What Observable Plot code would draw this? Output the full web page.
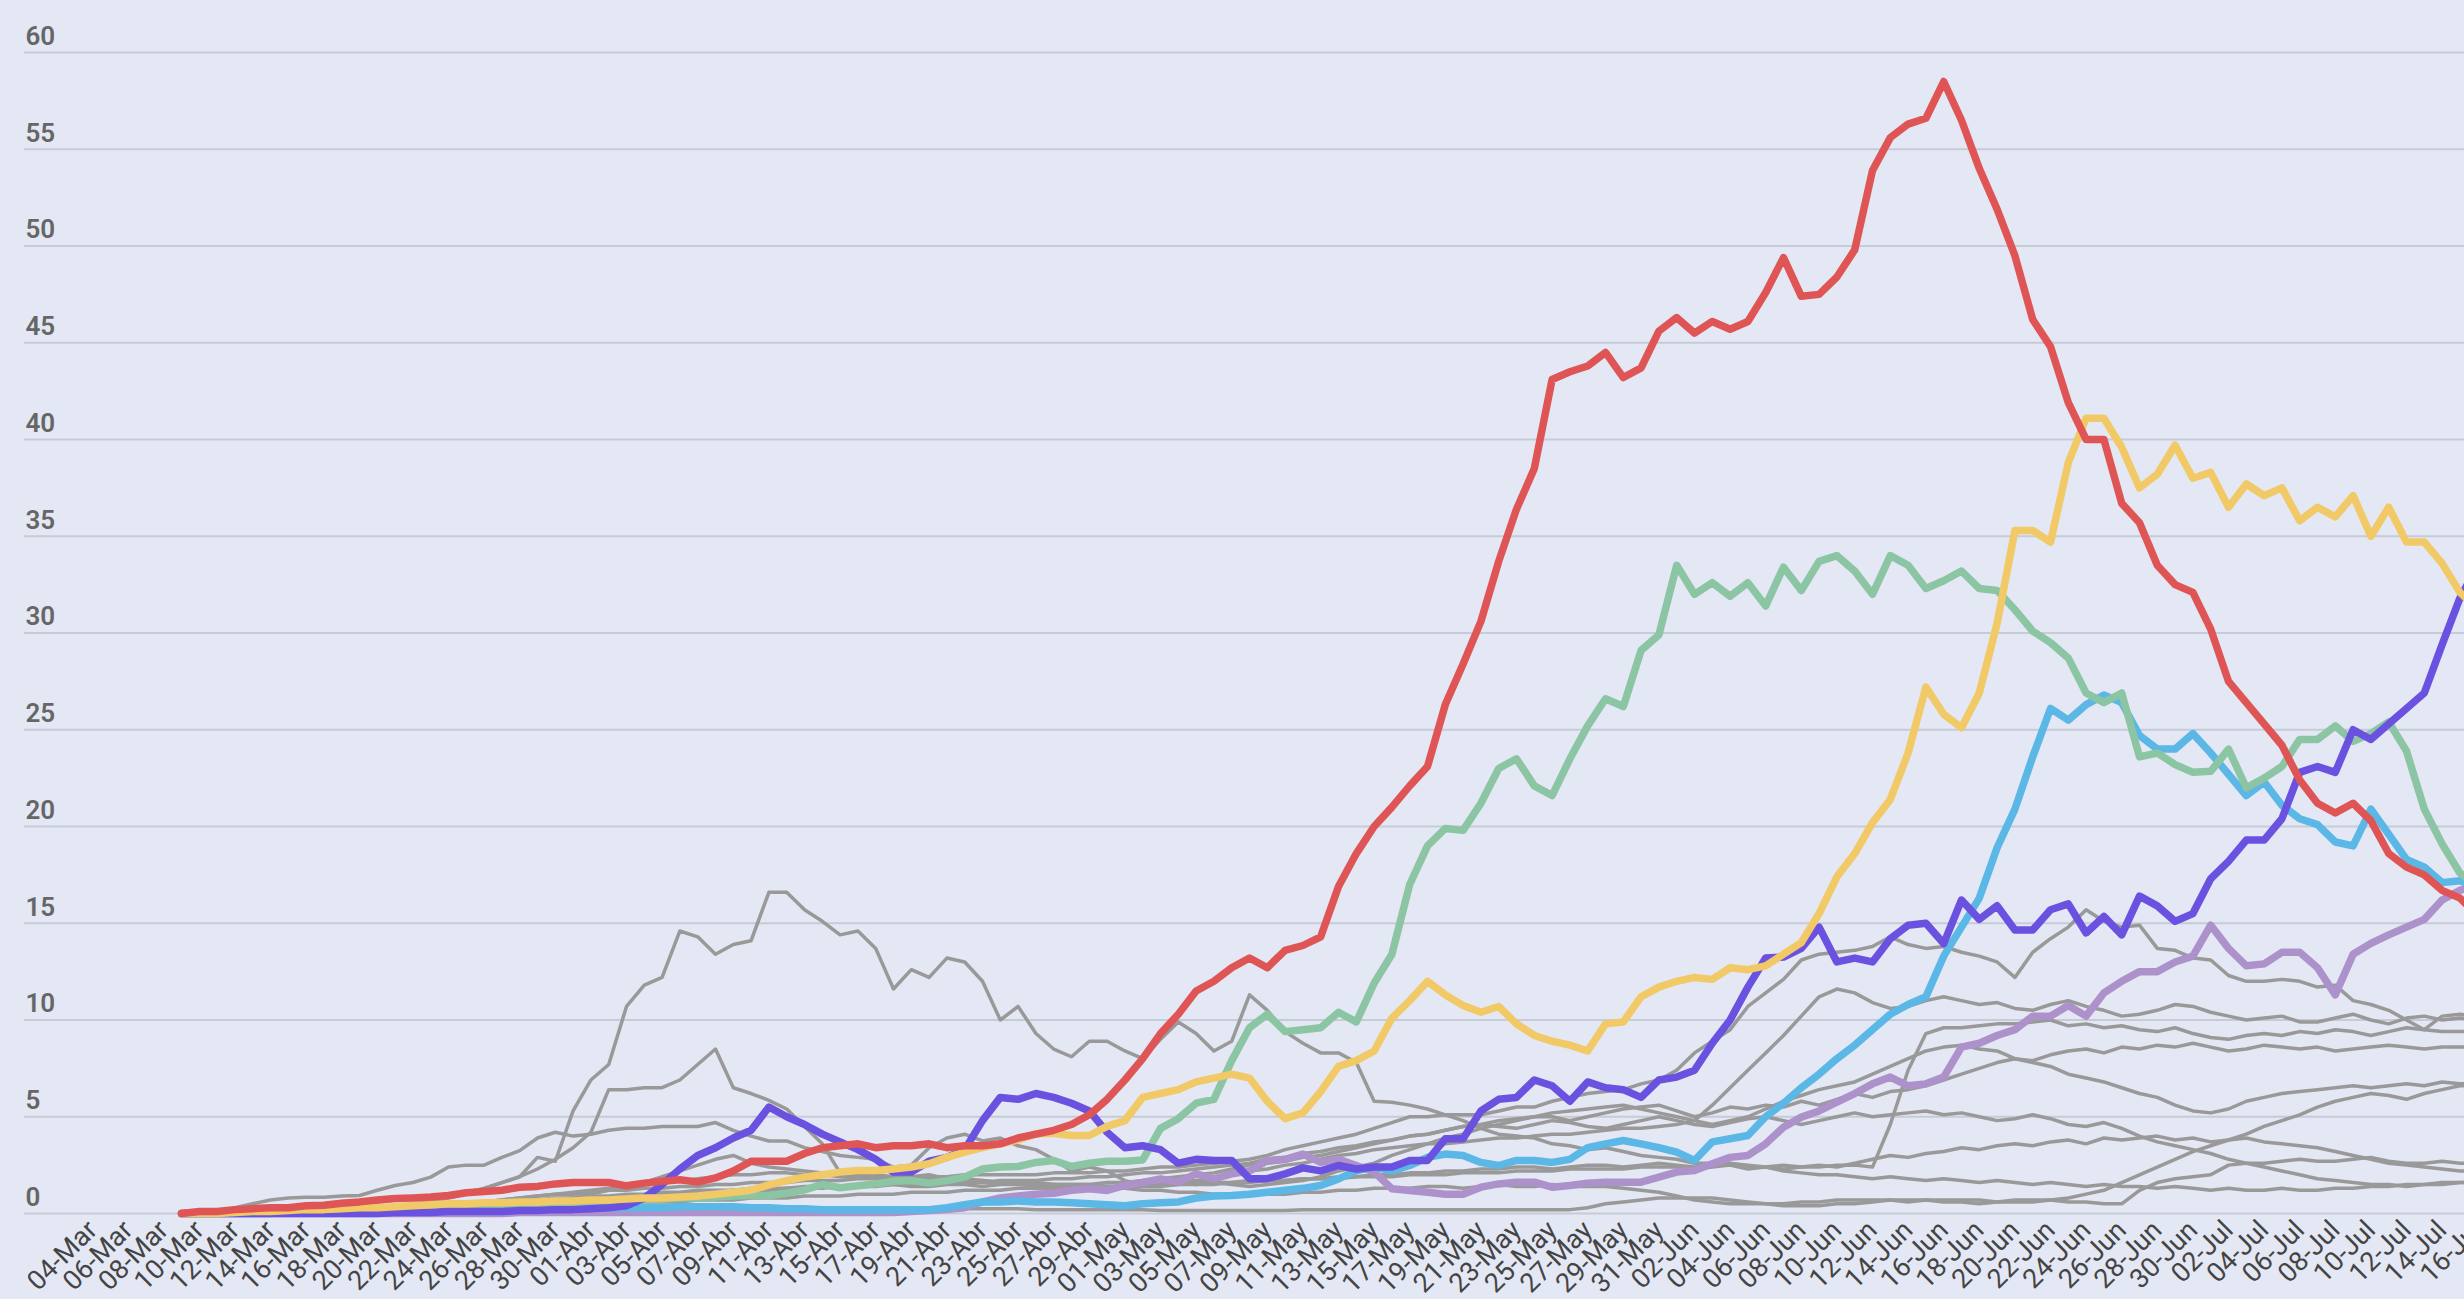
<!DOCTYPE html>
<html><head><meta charset="utf-8">
<script src="https://cdn.jsdelivr.net/npm/d3@7"></script>
<script src="https://cdn.jsdelivr.net/npm/@observablehq/plot@0.6"></script>
<style>
html,body{margin:0;padding:0;background:#e4e8f4;overflow:hidden;}
#chart svg{display:block;}
</style></head><body><div id="chart"></div>
<script>
const monthNames = ["Mar","Abr","May","Jun","Jul"];
const dates = d3.utcDay.range(new Date(Date.UTC(2020,2,4)), new Date(Date.UTC(2020,6,17)))
  .map(d => String(d.getUTCDate()).padStart(2,"0") + "-" + monthNames[d.getUTCMonth()-2]);
const tickLabels = dates.filter((d,i) => i % 2 === 0);
const yTicks = [0,5,10,15,20,25,30,35,40,45,50,55,60];
const firstIndex = 5; // series start on 09-Mar

const red = [0,0.1,0.1,0.2,0.25,0.3,0.3,0.4,0.43,0.53,
 0.6,0.7,0.77,0.8,0.85,0.93,1.07,1.14,1.2,1.36,
 1.4,1.53,1.6,1.6,1.6,1.43,1.57,1.67,1.74,1.62,
 1.84,2.2,2.7,2.7,2.7,3.1,3.4,3.5,3.6,3.4,
 3.5,3.5,3.6,3.4,3.5,3.5,3.6,3.9,4.1,4.3,
 4.6,5.1,5.9,6.9,8.0,9.3,10.3,11.5,12.0,12.7,
 13.2,12.7,13.6,13.85,14.3,16.9,18.6,20.0,21.0,22.1,
 23.1,26.3,28.4,30.6,33.7,36.4,38.5,43.1,43.5,43.8,
 44.5,43.2,43.7,45.6,46.3,45.5,46.1,45.7,46.1,47.6,
 49.4,47.4,47.5,48.4,49.8,53.9,55.6,56.3,56.6,58.5,
 56.5,54.0,51.9,49.5,46.2,44.8,41.9,40.0,40.0,36.7,
 35.7,33.5,32.5,32.1,30.2,27.5,26.4,25.3,24.2,22.4,
 21.2,20.7,21.2,20.3,18.6,17.9,17.5,16.7,16.3,15.4];
const green = [0,0,0,0.05,0.05,0.1,0.1,0.1,0.15,0.15,
 0.2,0.2,0.2,0.25,0.3,0.3,0.35,0.4,0.4,0.45,
 0.5,0.5,0.55,0.6,0.6,0.65,0.7,0.75,0.8,0.8,
 0.85,0.9,0.93,0.93,1.05,1.22,1.5,1.33,1.43,1.53,
 1.67,1.7,1.57,1.7,1.88,2.3,2.4,2.43,2.64,2.74,
 2.43,2.6,2.7,2.7,2.77,4.4,4.9,5.7,5.9,7.9,
 9.6,10.3,9.4,9.5,9.6,10.4,9.9,11.9,13.4,17.0,
 19.0,19.9,19.8,21.2,23.0,23.5,22.1,21.6,23.5,25.2,
 26.6,26.2,29.1,29.9,33.5,32.0,32.6,31.9,32.6,31.4,
 33.4,32.2,33.7,34.0,33.2,32.0,34.0,33.5,32.3,32.7,
 33.2,32.3,32.2,31.2,30.1,29.5,28.7,26.9,26.4,26.9,
 23.6,23.8,23.2,22.8,22.85,24.0,22.0,22.5,23.1,24.5,
 24.5,25.2,24.4,24.8,25.4,23.9,20.9,19.1,17.6,16.9];
const yellow = [0,0,0,0.05,0.1,0.1,0.15,0.2,0.2,0.25,
 0.3,0.3,0.35,0.4,0.45,0.5,0.5,0.55,0.55,0.6,
 0.6,0.65,0.65,0.7,0.7,0.75,0.8,0.8,0.85,0.9,
 1.0,1.1,1.2,1.48,1.7,1.88,2.0,2.14,2.22,2.22,
 2.3,2.4,2.57,2.9,3.17,3.4,3.6,3.8,4.12,4.15,
 4.03,4.03,4.5,4.8,6.0,6.2,6.4,6.8,7.0,7.2,
 7.0,5.8,4.9,5.2,6.3,7.6,7.9,8.4,10.1,11.0,
 12.0,11.3,10.75,10.4,10.7,9.8,9.2,8.9,8.7,8.4,
 9.8,9.9,11.2,11.7,12.0,12.2,12.1,12.7,12.6,12.8,
 13.4,14.0,15.5,17.4,18.6,20.2,21.4,23.8,27.2,25.8,
 25.1,26.9,30.5,35.3,35.3,34.7,38.8,41.1,41.1,39.6,
 37.5,38.2,39.7,38.0,38.3,36.5,37.7,37.1,37.5,35.8,
 36.5,36.0,37.1,35.0,36.5,34.7,34.7,33.6,32.1,31.2];
const purple = [0,0,0,0,0,0,0,0,0,0,
 0,0,0.05,0.05,0.05,0.1,0.1,0.1,0.1,0.15,
 0.15,0.2,0.2,0.25,0.3,0.4,0.8,1.5,2.3,3.0,
 3.4,3.9,4.3,5.5,5.0,4.6,4.1,3.7,3.3,2.8,
 2.14,2.14,2.7,2.9,3.3,4.8,6.0,5.9,6.2,6.0,
 5.7,5.3,4.2,3.4,3.5,3.3,2.6,2.8,2.74,2.74,
 1.8,1.8,2.05,2.36,2.2,2.48,2.3,2.4,2.4,2.74,
 2.74,3.86,3.86,5.3,5.9,6.0,6.9,6.6,5.8,6.8,
 6.5,6.4,6.0,6.9,7.05,7.4,8.8,10.0,11.7,13.2,
 13.25,13.7,14.8,13.0,13.2,13.0,14.2,14.9,15.0,13.95,
 16.2,15.2,15.9,14.65,14.65,15.7,16.0,14.5,15.35,14.4,
 16.4,15.9,15.1,15.5,17.3,18.2,19.3,19.3,20.4,22.8,
 23.1,22.8,25.0,24.5,25.3,26.1,26.9,29.4,31.8,33.5];
const blue = [0,0,0,0,0,0,0.05,0.05,0.05,0.1,
 0.1,0.1,0.1,0.15,0.15,0.15,0.2,0.2,0.2,0.2,
 0.25,0.25,0.25,0.3,0.3,0.3,0.3,0.3,0.35,0.35,
 0.35,0.35,0.3,0.3,0.25,0.25,0.2,0.2,0.2,0.2,
 0.2,0.2,0.2,0.3,0.45,0.6,0.6,0.65,0.6,0.6,
 0.55,0.5,0.45,0.4,0.5,0.55,0.6,0.8,0.9,0.93,
 1.0,1.1,1.2,1.3,1.45,1.79,2.2,2.4,2.2,2.48,
 2.9,3.07,3.0,2.64,2.48,2.74,2.74,2.64,2.8,3.4,
 3.6,3.77,3.6,3.4,3.17,2.74,3.7,3.86,4.03,5.0,
 5.7,6.5,7.2,8.0,8.7,9.5,10.3,10.8,11.2,13.3,
 14.8,16.3,18.9,20.9,23.6,26.1,25.5,26.3,26.8,26.4,
 24.7,24.0,24.0,24.8,23.8,22.7,21.6,22.3,21.1,20.4,
 20.1,19.2,19.0,20.9,19.6,18.3,17.9,17.1,17.2,16.9];
const lavender = [0,0,0,0,0,0,0,0,0,0,
 0,0,0,0,0,0,0,0,0,0.05,
 0.05,0.05,0.05,0.05,0.05,0.05,0.05,0.05,0.05,0.05,
 0.05,0.05,0.05,0.05,0.05,0.05,0.05,0.05,0.05,0.05,
 0.05,0.1,0.15,0.2,0.3,0.6,0.8,0.9,1.0,1.05,
 1.2,1.28,1.19,1.45,1.6,1.79,1.62,2.05,1.79,2.05,
 2.2,2.74,2.8,3.07,2.64,2.8,2.48,2.14,1.28,1.19,
 1.1,1.0,1.0,1.36,1.53,1.62,1.62,1.36,1.45,1.57,
 1.62,1.62,1.62,1.88,2.14,2.22,2.57,2.9,3.0,3.6,
 4.46,4.98,5.3,5.76,6.2,6.7,7.05,6.6,6.7,7.05,
 8.6,8.8,9.2,9.5,10.2,10.2,10.75,10.2,11.4,12.0,
 12.5,12.5,13.0,13.3,14.9,13.7,12.8,12.9,13.5,13.5,
 12.7,11.3,13.4,13.96,14.4,14.8,15.2,16.2,16.7,17.0];

const gray1 = [0,0,0.1,0.1,0.2,0.2,0.3,0.4,0.4,0.5,
 0.6,0.6,0.7,0.8,0.9,1.0,1.1,1.3,1.6,1.9,
 2.9,2.7,5.3,6.9,7.7,10.7,11.8,12.2,14.6,14.3,
 13.4,13.9,14.1,16.6,16.6,15.7,15.1,14.4,14.6,13.7,
 11.6,12.6,12.2,13.2,13.0,12.0,10.0,10.7,9.3,8.5,
 8.1,8.9,8.9,8.4,8.0,9.0,9.9,9.3,8.4,8.9,
 11.3,10.5,9.4,8.8,8.3,8.3,7.8,5.8,5.75,5.6,
 5.4,5.1,4.8,4.4,4.1,4.0,3.9,3.6,3.5,3.3,
 3.4,3.2,3.0,2.9,2.8,2.6,2.6,2.5,2.3,2.4,
 2.2,2.1,2.0,2.0,1.9,1.8,1.9,1.8,1.7,1.8,
 1.7,1.6,1.7,1.6,1.5,1.6,1.5,1.4,1.5,1.4,
 1.4,1.3,1.4,1.3,1.2,1.3,1.2,1.2,1.3,1.2,
 1.2,1.3,1.3,1.4,1.4,1.5,1.5,1.5,1.6,1.6];
const gray2 = [0,0,0,0,0,0.1,0.1,0.1,0.2,0.2,
 0.3,0.3,0.4,0.5,0.6,0.8,1.0,1.3,1.6,1.9,
 2.3,2.8,3.4,4.2,6.4,6.4,6.5,6.5,6.9,7.7,
 8.5,6.5,6.2,5.85,5.4,4.5,3.6,2.1,2.05,2.0,
 1.9,1.9,2.0,1.8,1.8,1.7,1.6,1.6,1.5,1.5,
 1.4,1.4,1.3,1.3,1.2,1.2,1.1,1.1,1.0,1.0,
 1.0,1.0,1.0,1.1,1.1,1.2,1.2,1.3,1.3,1.3,
 1.4,1.4,1.3,1.4,1.5,1.4,1.4,1.5,1.4,1.4,
 1.4,1.3,1.2,1.1,0.9,0.7,0.6,0.5,0.5,0.5,
 0.5,0.6,0.6,0.7,0.7,0.7,0.7,0.6,0.7,0.7,
 0.7,0.7,0.6,0.7,0.7,0.7,0.6,0.6,0.5,0.5,
 1.2,1.6,1.8,1.9,2.0,2.5,2.6,2.6,2.7,2.8,
 2.7,2.7,2.8,2.9,2.7,2.6,2.6,2.7,2.6,2.6];
const gray3 = [0,0,0.1,0.3,0.5,0.7,0.8,0.84,0.84,0.9,
 0.93,1.2,1.45,1.6,1.88,2.4,2.5,2.5,2.9,3.25,
 3.9,4.2,4.0,4.1,4.3,4.4,4.4,4.5,4.5,4.5,
 4.7,4.3,4.0,3.75,3.75,3.4,3.2,3.0,2.9,2.8,
 2.4,2.5,3.4,3.9,4.1,3.75,3.9,3.5,3.3,2.8,
 2.2,2.4,2.2,1.7,1.5,1.7,1.6,1.5,1.6,1.5,
 1.4,1.5,1.6,1.7,1.9,2.2,2.4,2.6,3.0,3.3,
 3.6,3.9,4.1,4.4,4.6,4.8,5.0,5.0,4.8,5.0,
 5.2,5.4,5.5,5.6,5.3,5.0,5.2,5.5,5.4,5.6,
 5.5,5.8,5.6,5.9,6.2,6.0,6.3,6.4,6.6,6.9,
 7.2,7.5,7.8,8.0,7.9,8.2,8.4,8.5,8.3,8.6,
 8.5,8.7,8.6,8.8,8.6,8.4,8.5,8.7,8.6,8.5,
 8.6,8.4,8.5,8.6,8.7,8.6,8.5,8.6,8.6,8.6];
const gray4 = [0,0,0,0.1,0.1,0.1,0.2,0.2,0.2,0.3,
 0.3,0.3,0.4,0.4,0.5,0.5,0.6,0.6,0.7,0.8,
 0.9,1.0,1.0,1.1,1.2,1.2,1.3,1.3,1.4,1.4,
 1.5,1.5,1.6,1.6,1.6,1.7,1.7,1.7,1.8,1.8,
 1.8,1.9,1.9,1.9,2.0,2.0,2.0,2.0,2.0,2.1,
 2.1,2.1,2.2,2.2,2.3,2.4,2.4,2.5,2.6,2.7,
 2.8,3.0,3.3,3.5,3.7,3.9,4.1,4.4,4.7,5.0,
 5.0,5.1,5.1,5.1,5.3,5.5,5.5,5.8,6.0,6.2,
 6.3,6.4,6.7,6.9,7.4,8.3,8.9,9.5,10.7,11.4,
 12.1,13.1,13.4,13.5,13.6,13.8,14.3,13.9,13.7,13.8,
 13.5,13.3,13.0,12.2,13.5,14.2,14.8,15.7,15.1,14.8,
 14.9,13.7,13.6,13.2,13.1,12.3,12.0,12.0,12.1,12.0,
 11.7,11.8,11.0,10.8,10.5,10.0,9.5,10.2,10.3,10.2];
const gray5 = [0,0,0,0,0.1,0.1,0.1,0.2,0.2,0.2,
 0.3,0.3,0.3,0.4,0.4,0.5,0.5,0.6,0.6,0.7,
 0.7,0.8,0.8,0.9,0.9,1.0,1.0,1.1,1.1,1.2,
 1.2,1.2,1.3,1.3,1.3,1.4,1.4,1.4,1.5,1.5,
 1.5,1.4,1.4,1.5,1.5,1.4,1.5,1.5,1.4,1.4,
 1.4,1.3,1.4,1.4,1.5,1.5,1.6,1.7,1.8,2.0,
 2.2,2.3,2.5,2.6,2.8,3.0,3.1,3.3,3.4,3.5,
 3.6,3.6,3.7,3.8,3.9,3.9,4.0,4.1,4.1,4.2,
 4.3,4.4,4.4,4.5,4.6,4.8,5.6,6.5,7.4,8.3,
 9.2,10.2,11.2,11.6,11.4,10.9,10.6,10.7,11.0,11.2,
 11.0,10.8,10.9,10.6,10.5,10.8,11.0,10.7,10.5,10.2,
 10.3,10.5,10.8,10.7,10.4,10.2,10.0,10.1,10.2,9.9,
 9.9,10.1,10.3,10.0,9.8,10.1,10.2,10.0,10.1,10.0];
const gray6 = [0,0,0,0,0,0,0,0.1,0.1,0.1,
 0.1,0.1,0.2,0.2,0.2,0.2,0.3,0.3,0.3,0.3,
 0.4,0.4,0.4,0.5,0.5,0.5,0.6,0.6,0.6,0.7,
 0.7,0.7,0.8,0.8,0.8,0.9,0.9,0.9,1.0,1.0,
 1.0,1.1,1.1,1.1,1.2,1.2,1.2,1.3,1.3,1.3,
 1.3,1.4,1.4,1.4,1.5,1.5,1.5,1.6,1.6,1.6,
 1.7,1.7,1.7,1.8,1.8,1.8,1.9,1.9,1.9,2.0,
 2.0,2.0,2.1,2.1,2.1,2.2,2.2,2.2,2.3,2.3,
 2.3,2.3,2.4,2.4,2.4,2.3,2.4,2.5,2.4,2.4,
 2.5,2.4,2.4,2.5,2.5,2.4,4.6,7.4,9.3,9.6,
 9.6,9.7,9.8,9.8,9.9,10.0,9.7,9.8,9.6,9.7,
 9.5,9.4,9.6,9.3,9.1,9.0,9.2,9.3,9.2,9.4,
 9.3,9.5,9.4,9.2,9.4,9.6,9.5,9.4,9.4,9.4];
const gray7 = [0,0,0,0,0,0,0.1,0.1,0.1,0.1,
 0.2,0.2,0.2,0.3,0.3,0.3,0.4,0.4,0.4,0.5,
 0.6,0.7,0.8,1.0,1.2,1.4,1.6,1.9,2.2,2.5,
 2.8,3.0,2.6,2.4,2.3,2.2,2.1,2.0,2.0,1.9,
 1.9,1.8,1.8,1.7,1.7,1.7,1.6,1.6,1.6,1.5,
 1.5,1.5,1.6,1.6,1.7,1.8,1.9,2.0,2.1,2.3,
 2.5,2.6,2.7,2.9,3.0,3.2,3.4,3.6,3.8,4.0,
 4.1,4.3,4.5,4.6,4.8,4.9,5.0,5.2,5.3,5.4,
 5.5,5.6,5.4,5.2,5.0,4.8,4.6,4.8,5.0,5.4,
 5.8,6.1,6.4,6.6,6.8,7.2,7.6,8.0,8.4,8.6,
 8.7,8.5,8.4,8.0,7.8,7.6,7.2,7.0,6.8,6.5,
 6.2,6.0,5.6,5.3,5.2,5.4,5.8,6.0,6.2,6.3,
 6.4,6.5,6.6,6.5,6.6,6.7,6.6,6.8,6.7,6.7];
const gray8 = [0,0,0,0,0,0.1,0.1,0.1,0.1,0.2,
 0.2,0.2,0.3,0.3,0.3,0.4,0.4,0.5,0.5,0.6,
 0.6,0.7,0.7,0.8,0.8,0.9,0.9,1.0,1.0,1.1,
 1.1,1.2,1.2,1.2,1.3,1.3,1.3,1.4,1.4,1.4,
 1.5,1.5,1.5,1.6,1.6,1.6,1.7,1.7,1.7,1.8,
 1.8,1.9,1.9,2.0,2.1,2.1,2.2,2.3,2.4,2.5,
 2.6,2.8,2.9,3.1,3.2,3.4,3.5,3.7,3.8,4.0,
 4.1,4.3,4.5,4.6,4.5,4.4,4.6,4.8,4.7,4.5,
 4.4,4.6,4.8,5.0,4.8,4.6,4.5,4.7,4.9,5.0,
 4.8,4.6,4.8,5.0,5.2,5.0,5.1,5.2,5.3,5.1,
 5.2,5.0,4.8,4.9,5.1,4.9,4.6,4.5,4.7,4.4,
 4.0,3.7,3.5,3.3,3.1,2.8,2.6,2.4,2.2,2.0,
 1.8,1.7,1.6,1.5,1.5,1.4,1.5,1.6,1.6,1.6];
const gray9 = [0,0,0,0,0.1,0.1,0.1,0.2,0.2,0.2,
 0.3,0.3,0.3,0.4,0.4,0.5,0.5,0.6,0.7,0.8,
 0.9,1.0,1.1,1.2,1.3,1.4,1.5,1.6,1.7,1.8,
 1.9,2.0,2.0,2.1,2.1,2.0,2.0,1.9,1.9,1.8,
 1.8,1.8,1.7,1.7,1.7,1.6,1.6,1.6,1.5,1.5,
 1.5,1.5,1.4,1.4,1.4,1.4,1.5,1.5,1.5,1.6,
 1.6,1.7,1.7,1.8,1.8,1.9,1.9,2.0,2.0,2.1,
 2.1,2.2,2.2,2.3,2.3,2.4,2.4,2.3,2.4,2.5,
 2.5,2.4,2.5,2.6,2.5,2.4,2.5,2.6,2.5,2.4,
 2.3,2.4,2.5,2.4,2.6,2.8,3.0,2.9,3.1,3.2,
 3.4,3.3,3.5,3.6,3.5,3.7,3.8,3.6,3.9,3.8,
 3.9,4.0,3.8,3.9,3.7,3.8,3.9,3.7,3.6,3.5,
 3.4,3.2,3.0,2.8,2.6,2.5,2.4,2.3,2.2,2.2];
const gray10 = [0,0,0,0,0,0,0,0,0,0,
 0,0.05,0.05,0.05,0.1,0.1,0.1,0.1,0.15,0.15,
 0.15,0.2,0.2,0.2,0.25,0.25,0.25,0.3,0.3,0.3,
 0.3,0.3,0.3,0.3,0.3,0.3,0.3,0.3,0.3,0.3,
 0.3,0.3,0.3,0.3,0.25,0.25,0.25,0.25,0.2,0.2,
 0.2,0.2,0.2,0.2,0.2,0.15,0.15,0.15,0.15,0.15,
 0.15,0.15,0.15,0.2,0.2,0.2,0.2,0.2,0.2,0.2,
 0.2,0.2,0.2,0.2,0.2,0.2,0.2,0.2,0.2,0.3,
 0.5,0.6,0.7,0.8,0.8,0.8,0.8,0.7,0.6,0.5,
 0.4,0.4,0.4,0.5,0.5,0.6,0.7,0.7,0.7,0.6,
 0.6,0.5,0.6,0.6,0.6,0.7,0.8,1.0,1.2,1.6,
 2.0,2.4,2.8,3.2,3.5,3.8,4.1,4.5,4.8,5.1,
 5.5,5.8,6.0,6.2,6.1,5.9,6.2,6.4,6.6,6.6];

const graySeries = [gray1,gray2,gray3,gray4,gray5,gray6,gray7,gray8,gray9,gray10];
const grayColor = "#999999";
// highlighted series, drawn bottom to top
const highlightSeries = [lavender, blue, green, purple, yellow, red];
const highlightColors = ["#ad91cb", "#5bb7e5", "#8cc5a3", "#6b51e0", "#f1c966", "#df5555"];

function toRows(values, name) {
  return values.map((v, k) => ({date: dates[firstIndex + k], value: v, series: name}));
}
const grayRows = graySeries.flatMap((s, j) => toRows(s, "g" + j));

const step = 17.8, x0 = 92;
const chart = Plot.plot({
  width: 2464, height: 1299,
  marginLeft: 24, marginRight: 0, marginTop: 52, marginBottom: 86,
  style: {background: "#e4e8f4", fontFamily: "Roboto, sans-serif", overflow: "hidden"},
  x: {type: "point", domain: dates, range: [x0, x0 + step * (dates.length - 1)], padding: 0, label: null},
  y: {domain: [0, 60], axis: null},
  marks: [
    Plot.ruleY(yTicks, {stroke: "#c7cad7", strokeWidth: 2}),
    Plot.text(yTicks, {y: d => d, text: d => String(d), frameAnchor: "left", textAnchor: "start",
      dx: 1, dy: -16, fontSize: 26, fontWeight: 600, fill: "#666666"}),
    Plot.line(grayRows, {x: "date", y: "value", z: "series", stroke: grayColor, strokeWidth: 3.5}),
    ...highlightSeries.map((s, j) => Plot.line(toRows(s, "h" + j), {x: "date", y: "value", stroke: highlightColors[j], strokeWidth: 7.5})),
    Plot.axisX({ticks: tickLabels, tickSize: 0, tickRotate: -45, tickPadding: 12, fontSize: 27, fill: "#444444", label: null})
  ]
});
document.getElementById("chart").appendChild(chart);
</script></body></html>
